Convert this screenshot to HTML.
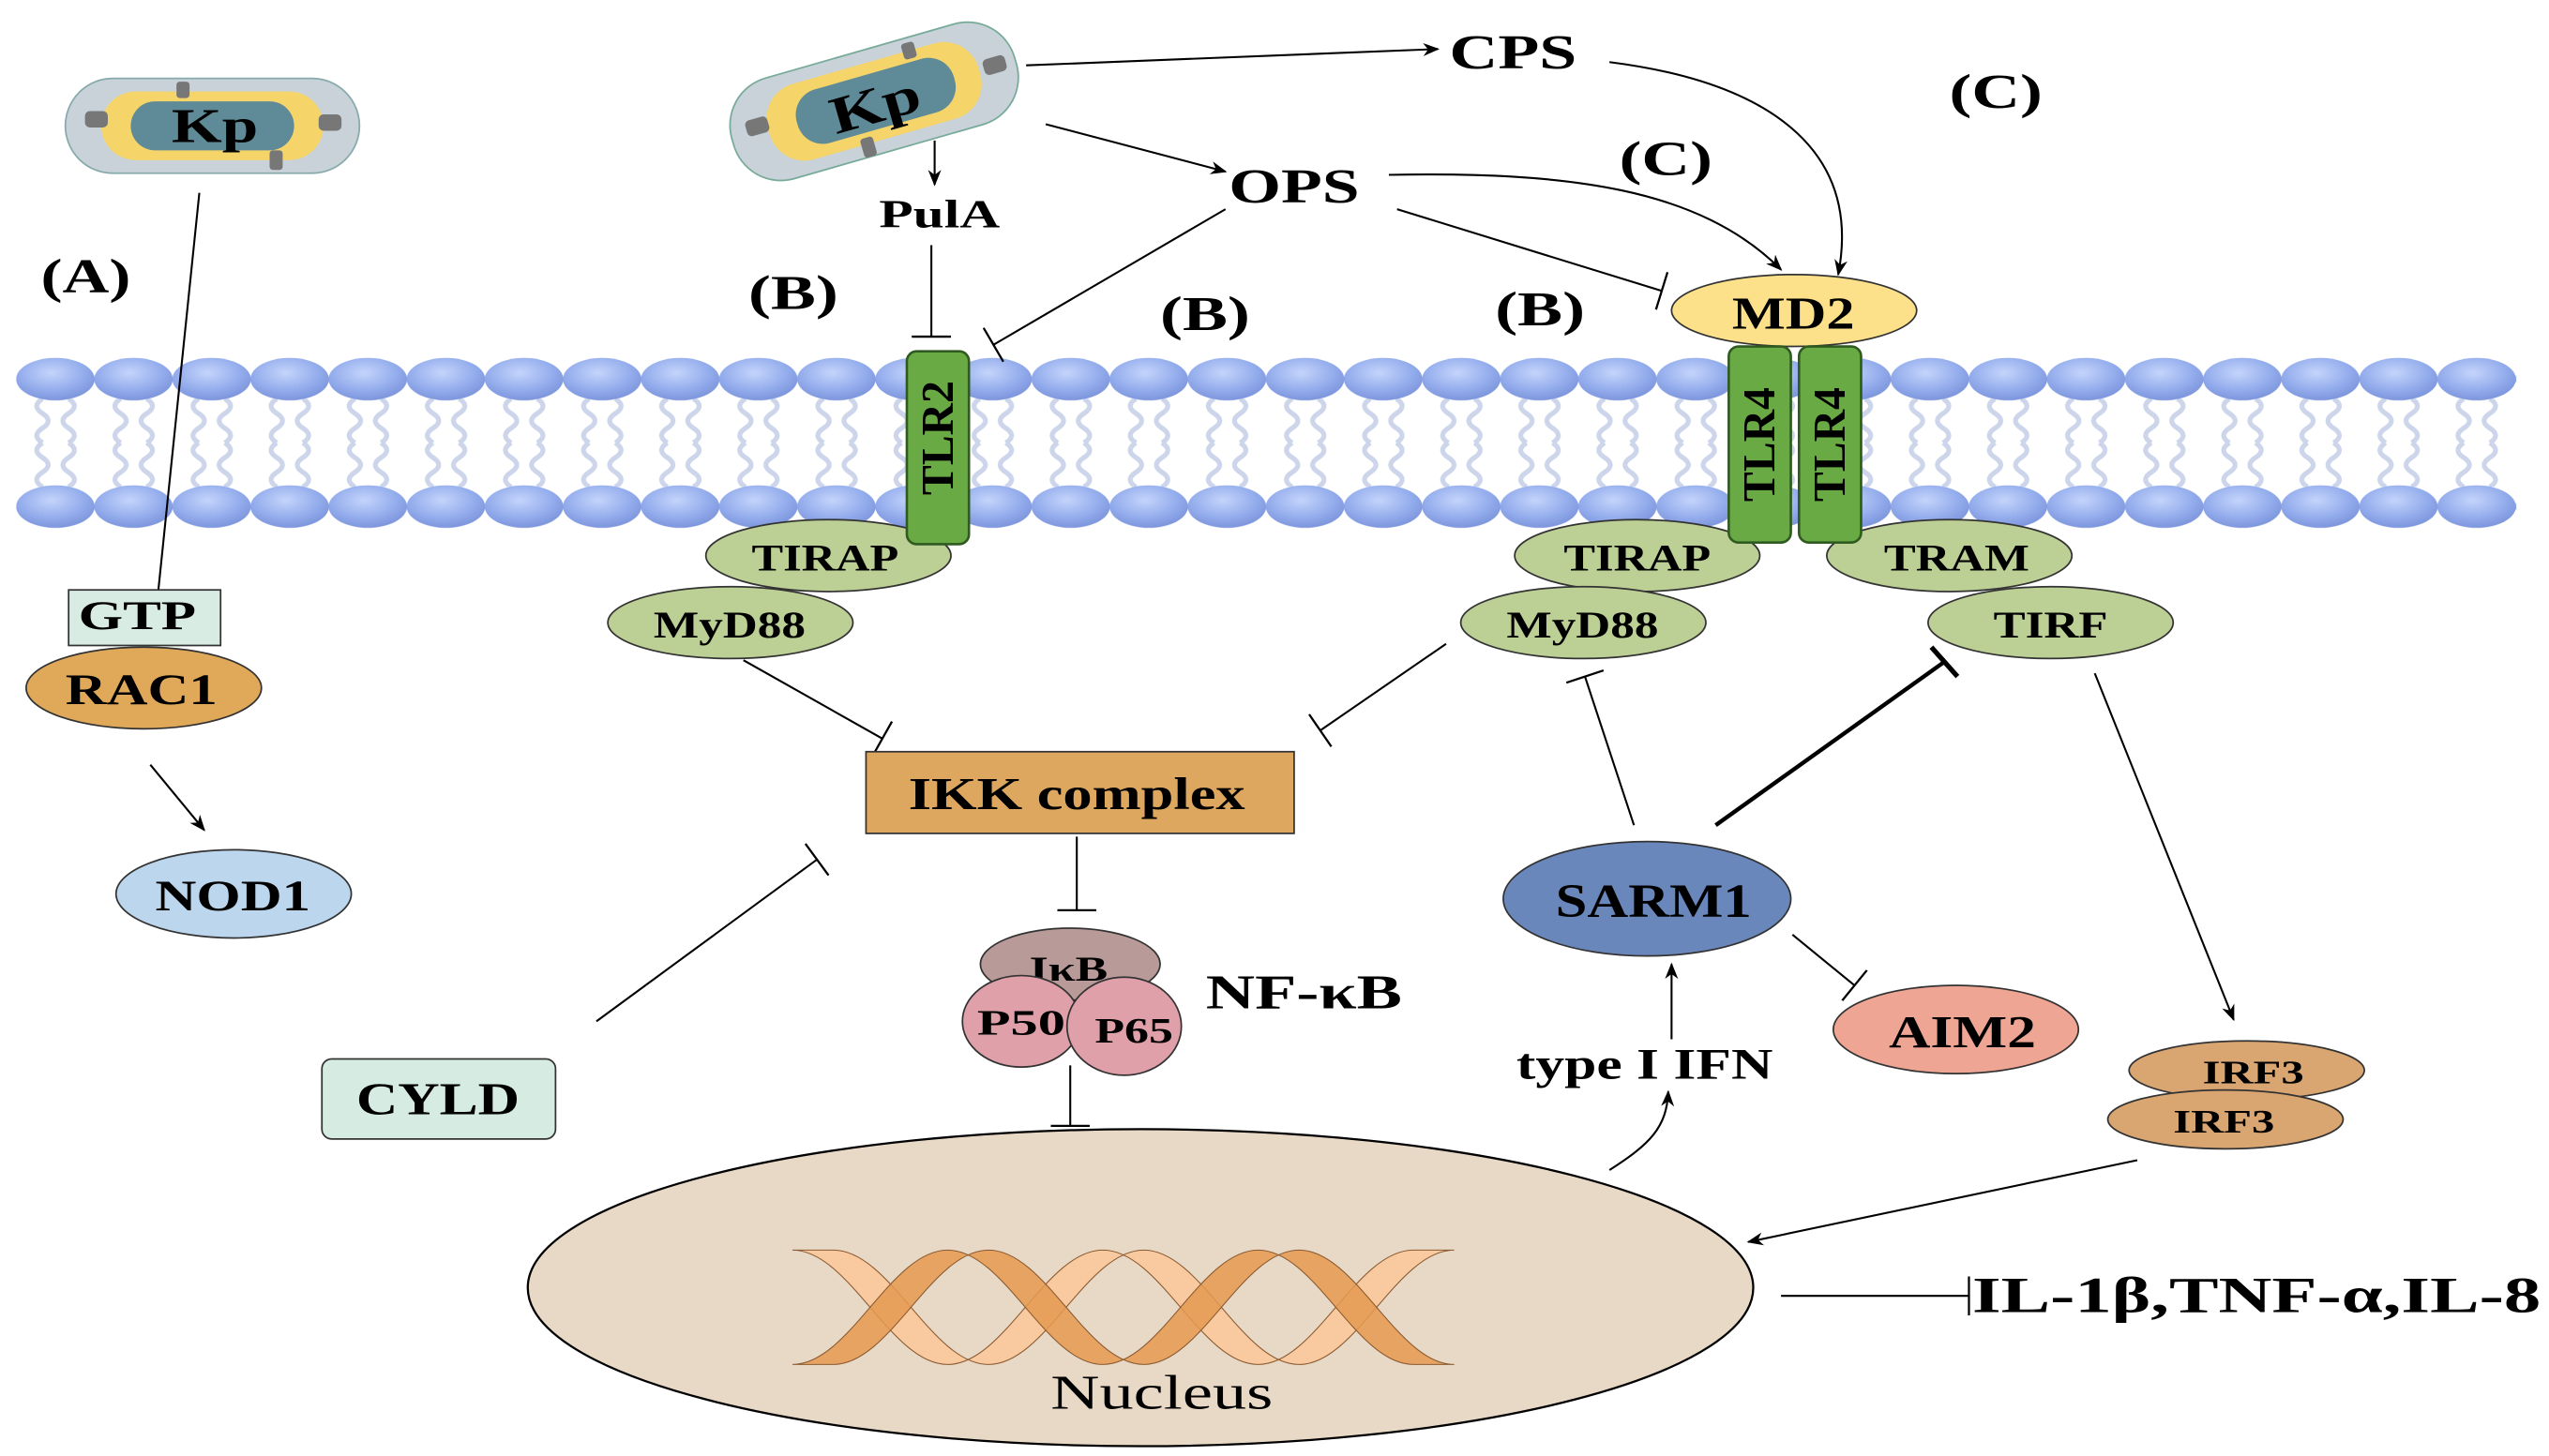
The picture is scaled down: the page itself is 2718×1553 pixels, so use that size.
<!DOCTYPE html>
<html><head><meta charset="utf-8"><style>
html,body{margin:0;padding:0;background:#fff;}
svg{display:block;}
text{font-family:"Liberation Serif",serif;font-weight:bold;fill:#000;}
</style></head><body>
<svg width="2718" height="1553" viewBox="0 0 1560 891" preserveAspectRatio="none" xmlns="http://www.w3.org/2000/svg">
<defs>
<marker id="ar" markerWidth="10" markerHeight="10" refX="9" refY="5" orient="auto" markerUnits="userSpaceOnUse"><path d="M0,1 L10,5 L0,9 L3,5 Z" fill="#000"/></marker>
<marker id="tb" markerWidth="4" markerHeight="24" refX="2" refY="12" orient="auto" markerUnits="userSpaceOnUse"><line x1="2" y1="0" x2="2" y2="24" stroke="#000" stroke-width="1.3"/></marker>
<radialGradient id="hg" cx="0.45" cy="0.35" r="0.7"><stop offset="0" stop-color="#c4d4fb"/><stop offset="0.6" stop-color="#93acec"/><stop offset="1" stop-color="#7890d8"/></radialGradient>
<pattern id="heads" x="10" y="218" width="47.8" height="28" patternUnits="userSpaceOnUse">
<ellipse cx="23.9" cy="14" rx="24" ry="13" fill="url(#hg)"/></pattern>
<pattern id="heads2" x="10" y="296" width="47.8" height="28" patternUnits="userSpaceOnUse"><ellipse cx="23.9" cy="14" rx="24" ry="13" fill="url(#hg)"/></pattern>
<pattern id="tails" x="10" y="244" width="47.8" height="54" patternUnits="userSpaceOnUse">
<path d="M16,0 q-7,4.5 0,9 q7,4.5 0,9 q-7,4.5 0,9 M32,0 q7,4.5 0,9 q-7,4.5 0,9 q7,4.5 0,9 M16,27 q-7,4.5 0,9 q7,4.5 0,9 q-7,4.5 0,9 M32,27 q7,4.5 0,9 q-7,4.5 0,9 q7,4.5 0,9" fill="none" stroke="#ccd5ea" stroke-width="3"/></pattern>
</defs>

<!-- membrane -->
<rect x="10" y="244" width="1530" height="54" fill="url(#tails)"/>
<rect x="10" y="218" width="1530" height="28" fill="url(#heads)"/>
<rect x="10" y="296" width="1530" height="28" fill="url(#heads2)"/>

<!-- Kp1 -->
<g>
<rect x="40" y="48" width="180" height="58" rx="29" fill="#c8d2d8" stroke="#8aa" stroke-width="1"/>
<rect x="62" y="56" width="136" height="42" rx="21" fill="#f5d56a"/>
<rect x="80" y="62" width="100" height="30" rx="15" fill="#5f8a97"/>
<rect x="52" y="68" width="14" height="10" rx="3" fill="#777"/><rect x="195" y="70" width="14" height="10" rx="3" fill="#777"/>
<rect x="108" y="50" width="8" height="10" rx="2" fill="#777"/><rect x="165" y="92" width="8" height="12" rx="2" fill="#777"/>
<text x="105" y="87" font-size="30" textLength="53" lengthAdjust="spacingAndGlyphs">Kp</text>
</g>
<!-- Kp2 -->
<g transform="rotate(-16 535 62)">
<rect x="445" y="30" width="180" height="64" rx="30" fill="#c8d2d8" stroke="#7a9" stroke-width="1"/>
<rect x="468" y="38" width="134" height="48" rx="22" fill="#f5d56a"/>
<rect x="486" y="45" width="100" height="34" rx="16" fill="#5f8a97"/>
<rect x="455" y="52" width="14" height="10" rx="3" fill="#777"/><rect x="605" y="56" width="14" height="10" rx="3" fill="#777"/>
<rect x="520" y="82" width="8" height="12" rx="2" fill="#777"/><rect x="560" y="33" width="8" height="10" rx="2" fill="#777"/>
<text x="507" y="75" font-size="32" textLength="56" lengthAdjust="spacingAndGlyphs">Kp</text>
</g>

<!-- labels -->
<text x="887" y="42" font-size="30" textLength="78" lengthAdjust="spacingAndGlyphs">CPS</text>
<text x="1193" y="66" font-size="30" textLength="57" lengthAdjust="spacingAndGlyphs">(C)</text>
<text x="991" y="107" font-size="30" textLength="57" lengthAdjust="spacingAndGlyphs">(C)</text>
<text x="752" y="124" font-size="30" textLength="80" lengthAdjust="spacingAndGlyphs">OPS</text>
<text x="538" y="139" font-size="24" textLength="74" lengthAdjust="spacingAndGlyphs">PulA</text>
<text x="25" y="179" font-size="30" textLength="55" lengthAdjust="spacingAndGlyphs">(A)</text>
<text x="458" y="189" font-size="30" textLength="55" lengthAdjust="spacingAndGlyphs">(B)</text>
<text x="710" y="202" font-size="30" textLength="55" lengthAdjust="spacingAndGlyphs">(B)</text>
<text x="915" y="199" font-size="30" textLength="55" lengthAdjust="spacingAndGlyphs">(B)</text>

<!-- connectors -->
<g stroke="#000" stroke-width="1.2" fill="none">
<line x1="628" y1="40" x2="880" y2="30" marker-end="url(#ar)"/>
<line x1="640" y1="76" x2="750" y2="105" marker-end="url(#ar)"/>
<line x1="572" y1="86" x2="572" y2="113" marker-end="url(#ar)"/>
<path d="M850,107 C960,105 1040,115 1090,165" marker-end="url(#ar)"/>
<path d="M985,38 C1080,50 1140,90 1125,168" marker-end="url(#ar)"/>
<line x1="750" y1="128" x2="608" y2="211" marker-end="url(#tb)"/>
<line x1="855" y1="128" x2="1017" y2="178" marker-end="url(#tb)"/>
<line x1="570" y1="150" x2="570" y2="206" marker-end="url(#tb)"/>
<line x1="122" y1="118" x2="96" y2="370" marker-end="url(#tb)"/>
<line x1="92" y1="468" x2="125" y2="508" marker-end="url(#ar)"/>
<line x1="455" y1="404" x2="540" y2="452" marker-end="url(#tb)"/>
<line x1="885" y1="394" x2="808" y2="447" marker-end="url(#tb)"/>
<line x1="659" y1="512" x2="659" y2="557" marker-end="url(#tb)"/>
<line x1="655" y1="652" x2="655" y2="689" marker-end="url(#tb)"/>
<line x1="365" y1="625" x2="500" y2="526" marker-end="url(#tb)"/>
<line x1="1000" y1="505" x2="970" y2="414" marker-end="url(#tb)"/>
<line x1="1097" y1="572" x2="1135" y2="603" marker-end="url(#tb)"/>
<line x1="1023" y1="636" x2="1023" y2="590" marker-end="url(#ar)"/>
<path d="M985,716 C1010,700 1020,690 1021,668" marker-end="url(#ar)"/>
<line x1="1282" y1="412" x2="1367" y2="624" marker-end="url(#ar)"/>
<line x1="1308" y1="710" x2="1070" y2="760" marker-end="url(#ar)"/>
<line x1="1090" y1="793" x2="1205" y2="793" marker-end="url(#tb)"/>
</g>
<line x1="1050" y1="505" x2="1190" y2="405" stroke="#000" stroke-width="2.5"/>
<line x1="1182" y1="396" x2="1198" y2="414" stroke="#000" stroke-width="3"/>

<!-- left cascade -->
<rect x="42" y="361" width="93" height="34" fill="#d9ece4" stroke="#333" stroke-width="1"/>
<text x="48" y="385" font-size="25" textLength="72" lengthAdjust="spacingAndGlyphs">GTP</text>
<ellipse cx="88" cy="421" rx="72" ry="25" fill="#e0a95a" stroke="#333"/>
<text x="40" y="431" font-size="27" textLength="93" lengthAdjust="spacingAndGlyphs">RAC1</text>
<ellipse cx="143" cy="547" rx="72" ry="27" fill="#bcd6ee" stroke="#333"/>
<text x="95" y="557" font-size="27" textLength="95" lengthAdjust="spacingAndGlyphs">NOD1</text>

<!-- receptors -->
<ellipse cx="507" cy="340" rx="75" ry="22" fill="#bccf94" stroke="#333"/>
<text x="460" y="349" font-size="23" textLength="90" lengthAdjust="spacingAndGlyphs">TIRAP</text>
<ellipse cx="447" cy="381" rx="75" ry="22" fill="#bccf94" stroke="#333"/>
<text x="400" y="390" font-size="23" textLength="93" lengthAdjust="spacingAndGlyphs">MyD88</text>
<rect x="555" y="215" width="38" height="118" rx="6" fill="#6aaa45" stroke="#2f5a20" stroke-width="1.5"/>
<text transform="translate(583 303) rotate(-90)" font-size="28" textLength="70" lengthAdjust="spacingAndGlyphs">TLR2</text>

<ellipse cx="1002" cy="340" rx="75" ry="22" fill="#bccf94" stroke="#333"/>
<text x="957" y="349" font-size="23" textLength="90" lengthAdjust="spacingAndGlyphs">TIRAP</text>
<ellipse cx="969" cy="381" rx="75" ry="22" fill="#bccf94" stroke="#333"/>
<text x="922" y="390" font-size="23" textLength="93" lengthAdjust="spacingAndGlyphs">MyD88</text>
<ellipse cx="1193" cy="340" rx="75" ry="22" fill="#bccf94" stroke="#333"/>
<text x="1153" y="349" font-size="23" textLength="89" lengthAdjust="spacingAndGlyphs">TRAM</text>
<ellipse cx="1255" cy="381" rx="75" ry="22" fill="#bccf94" stroke="#333"/>
<text x="1220" y="390" font-size="23" textLength="70" lengthAdjust="spacingAndGlyphs">TIRF</text>
<ellipse cx="1098" cy="190" rx="75" ry="22" fill="#fce18a" stroke="#333"/>
<text x="1060" y="201" font-size="28" textLength="75" lengthAdjust="spacingAndGlyphs">MD2</text>
<rect x="1058" y="212" width="38" height="120" rx="6" fill="#6aaa45" stroke="#2f5a20" stroke-width="1.5"/>
<rect x="1101" y="212" width="38" height="120" rx="6" fill="#6aaa45" stroke="#2f5a20" stroke-width="1.5"/>
<text transform="translate(1086 307) rotate(-90)" font-size="28" textLength="70" lengthAdjust="spacingAndGlyphs">TLR4</text>
<text transform="translate(1129 307) rotate(-90)" font-size="28" textLength="70" lengthAdjust="spacingAndGlyphs">TLR4</text>

<!-- IKK -->
<rect x="530" y="460" width="262" height="50" fill="#dea75f" stroke="#333"/>
<text x="556" y="495" font-size="28" textLength="206" lengthAdjust="spacingAndGlyphs">IKK complex</text>
<ellipse cx="655" cy="590" rx="55" ry="22" fill="#b89a98" stroke="#333"/>
<text x="630" y="600" font-size="21" textLength="48" lengthAdjust="spacingAndGlyphs">IκB</text>
<ellipse cx="625" cy="625" rx="36" ry="28" fill="#e0a0aa" stroke="#333"/>
<ellipse cx="688" cy="628" rx="35" ry="30" fill="#e0a0aa" stroke="#333"/>
<text x="598" y="633" font-size="22" textLength="54" lengthAdjust="spacingAndGlyphs">P50</text>
<text x="670" y="638" font-size="22" textLength="48" lengthAdjust="spacingAndGlyphs">P65</text>
<text x="738" y="617" font-size="30" textLength="120" lengthAdjust="spacingAndGlyphs">NF-κB</text>

<rect x="197" y="648" width="143" height="49" rx="6" fill="#d6ebe1" stroke="#333"/>
<text x="218" y="682" font-size="28" textLength="100" lengthAdjust="spacingAndGlyphs">CYLD</text>

<!-- SARM1 -->
<ellipse cx="1008" cy="550" rx="88" ry="35" fill="#6a87bb" stroke="#333"/>
<text x="952" y="561" font-size="29" textLength="120" lengthAdjust="spacingAndGlyphs">SARM1</text>
<ellipse cx="1197" cy="630" rx="75" ry="27" fill="#eea594" stroke="#333"/>
<text x="1156" y="641" font-size="28" textLength="90" lengthAdjust="spacingAndGlyphs">AIM2</text>
<text x="928" y="660" font-size="27" textLength="157" lengthAdjust="spacingAndGlyphs">type I IFN</text>
<ellipse cx="1375" cy="655" rx="72" ry="18" fill="#d9a672" stroke="#333"/>
<text x="1348" y="663" font-size="20" textLength="62" lengthAdjust="spacingAndGlyphs">IRF3</text>
<ellipse cx="1362" cy="685" rx="72" ry="18" fill="#d9a672" stroke="#333"/>
<text x="1330" y="693" font-size="20" textLength="62" lengthAdjust="spacingAndGlyphs">IRF3</text>

<!-- nucleus -->
<ellipse cx="698" cy="788" rx="375" ry="97" fill="#e8d8c6" stroke="#000" stroke-width="1.3"/>
<g stroke="#8a5a30" stroke-width="0.6">
<path d="M485,765 C520,765 545,835 580,835 C615,835 640,765 675,765 C710,765 735,835 770,835 C805,835 830,765 865,765 L890,765 C855,765 830,835 795,835 C760,835 735,765 700,765 C665,765 640,835 605,835 C570,835 545,765 510,765 Z" fill="#f9c9a0"/>
<path d="M485,835 C520,835 545,765 580,765 C615,765 640,835 675,835 C710,835 735,765 770,765 C805,765 830,835 865,835 L890,835 C855,835 830,765 795,765 C760,765 735,835 700,835 C665,835 640,765 605,765 C570,765 545,835 510,835 Z" fill="#e59a50" fill-opacity="0.85"/>
</g>
<text x="643" y="862" font-size="30" style="font-weight:normal" textLength="136" lengthAdjust="spacingAndGlyphs">Nucleus</text>

<text x="1207" y="803" font-size="31" textLength="348" lengthAdjust="spacingAndGlyphs">IL-1β,TNF-α,IL-8</text>
</svg>
</body></html>
